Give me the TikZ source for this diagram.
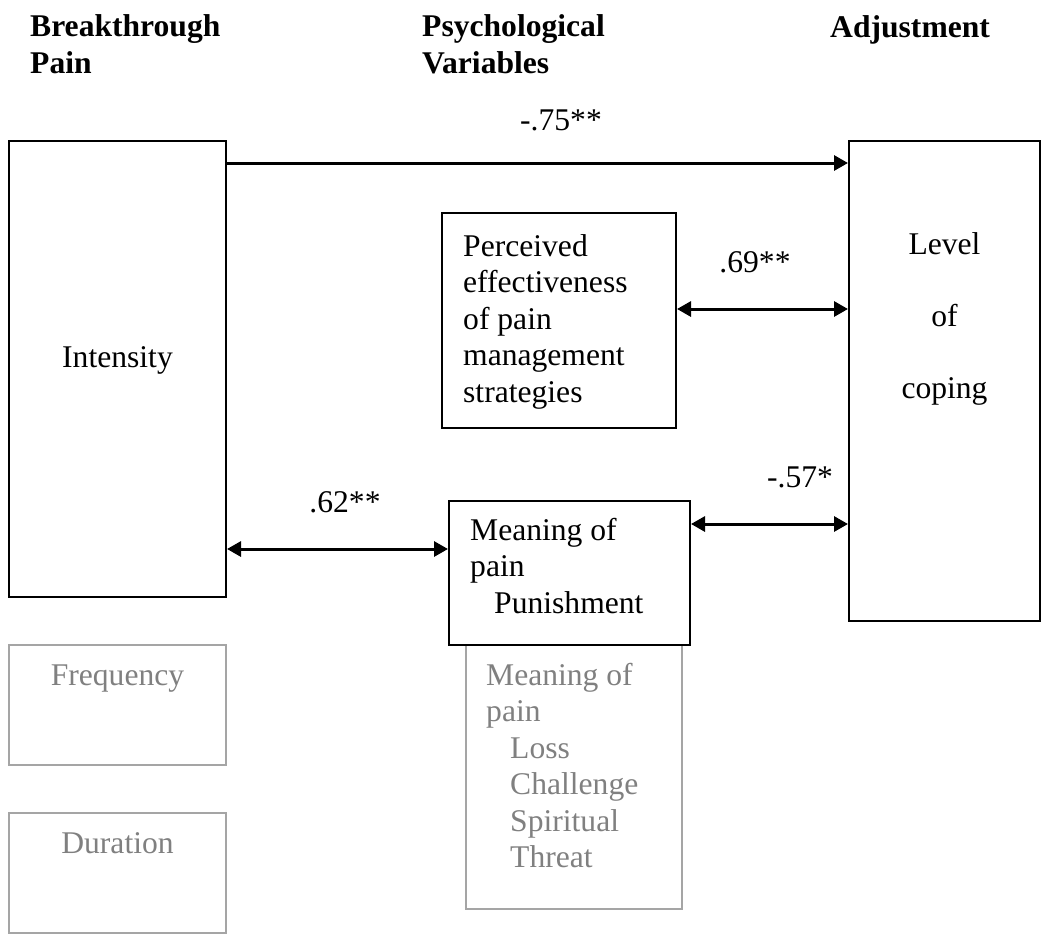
\documentclass[tikz,border=0pt]{standalone}
\usepackage{fontspec}
\setmainfont{Liberation Serif}
\usepackage{tikz}
\usetikzlibrary{arrows.meta,positioning}
\definecolor{fadetext}{RGB}{128,128,128}
\definecolor{fadeline}{RGB}{165,165,165}

\begin{document}
\begin{tikzpicture}[x=1pt,y=-1pt,font=\fontsize{31.6}{36.5}\selectfont]
\tikzstyle{box} = [rectangle, draw = black, line width = 2pt, inner sep = 0pt]
\tikzstyle{fadebox} = [rectangle, draw = fadeline, line width = 2pt, inner sep = 0pt]
\tikzstyle{txt} = [inner sep = 0pt, align = left]
\tikzstyle{edge} = [-{Triangle[length=14pt,width=15pt]}, line width = 3pt]
\tikzstyle{biedge} = [{Triangle[length=14pt,width=15pt]}-{Triangle[length=14pt,width=15pt]}, line width = 3pt]
\useasboundingbox (0,0) rectangle (1041,938);
% column heads (base = last line)
\node[txt, anchor=base west, font=\fontsize{31.6}{36.5}\selectfont\bfseries] (headpain) at (30,73) {Breakthrough\\Pain};
\node[txt, anchor=base west, font=\fontsize{31.6}{36.5}\selectfont\bfseries] (headpsy) at (422,73) {Psychological\\Variables};
\node[txt, anchor=base west, font=\fontsize{31.6}{36.5}\selectfont\bfseries] (headadj) at (830,37) {Adjustment};
% boxes
\node[box, minimum width=217pt, minimum height=456pt] (intensity) at (117.5,369) {};
\node[box, minimum width=191pt, minimum height=480pt] (level) at (944.5,381) {};
\node[box, minimum width=234pt, minimum height=215pt] (perceived) at (559,320.5) {};
\node[fadebox, minimum width=217pt, minimum height=120pt] (frequency) at (117.5,705) {};
\node[fadebox, minimum width=217pt, minimum height=120pt] (duration) at (117.5,873) {};
\node[fadebox, minimum width=216pt, minimum height=264pt] (meanings) at (574,777) {};
\node[box, fill=white, minimum width=241pt, minimum height=144pt] (punish) at (569.5,573) {};
% box texts
\node[txt, anchor=base] (intensitytext) at (117.5,367) {Intensity};
\node[txt, anchor=base, align=center] (leveltext) at (944.5,398) {Level\\[35.5pt]of\\[35.5pt]coping};
\node[txt, anchor=base west] (perceivedtext) at (463,402) {Perceived\\effectiveness\\of pain\\management\\strategies};
\node[txt, anchor=base west] (punishtext) at (470,613) {Meaning of\\pain\\\hspace*{24pt}Punishment};
\node[txt, anchor=base, text=fadetext] (frequencytext) at (117.5,685) {Frequency};
\node[txt, anchor=base, text=fadetext] (durationtext) at (117.5,853) {Duration};
\node[txt, anchor=base west, text=fadetext] (meaningstext) at (486,867.5) {Meaning of\\pain\\\hspace*{24pt}Loss\\\hspace*{24pt}Challenge\\\hspace*{24pt}Spiritual\\\hspace*{24pt}Threat};
% paths
\coordinate (p75) at ([yshift=-23pt]intensity.north east);
\coordinate (p69) at ([yshift=11.5pt]perceived.east);
\coordinate (p57) at ([yshift=49pt]punish.east);
\coordinate (p62) at ([yshift=24pt]punish.west);
\draw[edge] (p75) -- (p75 -| level.west);
\draw[biedge] (p69) -- (p69 -| level.west);
\draw[biedge] (p57) -- (p57 -| level.west);
\draw[biedge] (p62 -| intensity.east) -- (p62);
\node[txt, anchor=base] (r75) at (561,130) {-.75**};
\node[txt, anchor=base] (r69) at (755,272) {.69**};
\node[txt, anchor=base] (r57) at (800,487) {-.57*};
\node[txt, anchor=base] (r62) at (345,512) {.62**};
\end{tikzpicture}
\end{document}
